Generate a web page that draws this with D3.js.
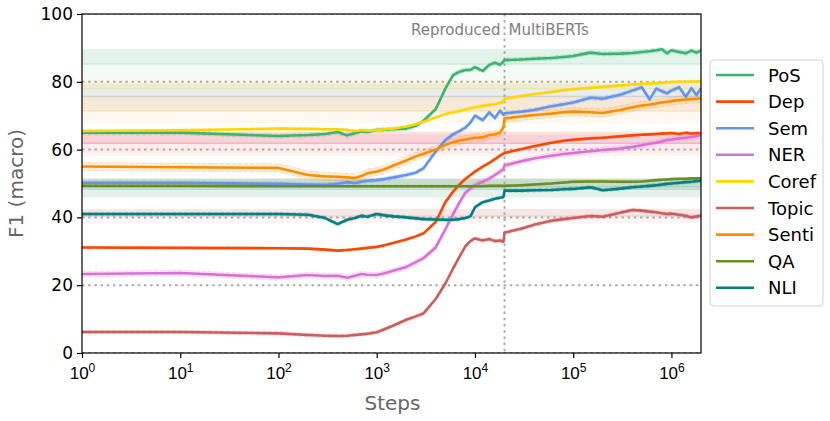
<!DOCTYPE html>
<html>
<head>
<meta charset="utf-8">
<script src="https://cdn.jsdelivr.net/npm/d3@7"></script>
<style>
  body { margin: 0; background: #fff; }
  svg { font-family: 'DejaVu Sans', sans-serif; }
</style>
</head>
<body>
<div id="chart"></div>
<script>
'use strict';

// probing tasks, in legend order
var tasks = ['PoS', 'Dep', 'Sem', 'NER', 'Coref', 'Topic', 'Senti', 'QA', 'NLI'];

// checkpoints: our reproduction up to 2e4, MultiBERTs after
var reproSteps = [1, 10, 100, 200, 300, 400, 500, 600, 700, 800, 1000, 1200, 1500, 2000, 2500, 3000,
  4000, 5000, 6000, 7000, 8000, 9000, 10000, 12000, 14000, 16000, 18000, 19500];
var multiSteps = [20000, 30000, 40000, 60000, 80000, 100000, 150000, 200000, 300000, 400000, 500000,
  600000, 700000, 800000, 900000, 1000000, 1200000, 1400000, 1600000, 1800000, 2000000];
var xTicks = [1, 10, 100, 1000, 10000, 100000, 1000000];
var yTicks = [0, 20, 40, 60, 80, 100];
var splitStep = 20000;

// F1 per checkpoint (repro values, then multi values)
var posF1 = [65, 65, 64, 64.3, 64.6, 65.2, 64.2, 64.8, 65.4, 65.2, 65.8, 65.9, 66, 66.2, 67, 68.5,
  72, 78, 82, 83, 83.5, 83.5, 84.3, 83.2, 85, 85.6, 85, 86,
  86.4, 86.6, 86.8, 87, 87.3, 87.6, 88.6, 88.2, 88.3, 88.5, 88.8, 89, 89.3, 89.6, 88.4, 89.3, 88.8, 88.4, 89.2, 88.6, 89.2];
var depF1 = [31.1, 31, 30.9, 30.8, 30.5, 30.2, 30.4, 30.6, 30.8, 31, 31.3, 31.8, 32.5, 33.5, 34.4, 35.3,
  38.7, 44.5, 47.6, 49.8, 51.3, 52.5, 53.5, 55, 56.1, 57.2, 58.2, 58.8,
  59, 60.2, 61, 62, 62.6, 62.9, 63.3, 63.5, 63.9, 64.2, 64.4, 64.5, 64.6, 64.7, 64.8, 64.9, 64.6, 65, 64.7, 64.9, 64.8];
var semF1 = [50.2, 50.2, 49.9, 49.7, 49.6, 49.9, 50.4, 50.1, 50.5, 50.8, 51, 51.3, 51.8, 52.5, 53.2, 54.5,
  59.5, 62.8, 64.5, 65.5, 66.5, 68, 70, 68.7, 71, 69.3, 71.5, 70.3,
  70.7, 71.2, 71.7, 72.8, 73.4, 73.9, 75.3, 75, 76.2, 77.4, 78.4, 74.8, 78, 77.2, 76.6, 77.4, 78.4, 75.6, 78.1, 76.1, 78];
var nerF1 = [23.3, 23.6, 22.3, 23, 22.7, 22.8, 22.2, 22.8, 23.3, 23.1, 23, 23.5, 24.3, 25.4, 26.8, 28,
  31.2, 36.5, 41, 44.5, 47.3, 48.5, 49.5, 50.5, 51.5, 52.5, 53.5, 54.3,
  55.3, 56.6, 57.4, 58.2, 58.7, 59, 59.5, 59.9, 60.3, 60.8, 61.3, 61.7, 62, 62.4, 62.8, 63, 63.3, 63.5, 63.7, 64, 64.3];
var corefF1 = [65.5, 65.7, 66.2, 66.1, 66, 66, 65.8, 65.5, 65.8, 65.6, 65.7, 66, 66.2, 66.8, 67.5, 68.2,
  69.5, 70.5, 71, 71.4, 71.8, 72.2, 72.5, 72.9, 73.2, 73.4, 73.8, 74.2,
  75, 75.8, 76.4, 77, 77.5, 77.8, 78.2, 78.5, 78.9, 79.2, 79.4, 79.5, 79.6, 79.7, 79.8, 79.9, 80, 80, 80.1, 80.1, 80.2];
var topicF1 = [6.2, 6.2, 5.8, 5.3, 5.1, 5, 5.1, 5.3, 5.5, 5.7, 6.1, 7, 8.2, 9.8, 10.8, 11.7,
  16, 20.5, 25, 28.5, 31.5, 33, 33.8, 33.2, 33.6, 33, 33.2, 32.8,
  35.5, 36.7, 37.8, 39, 39.5, 39.8, 40.4, 40.2, 41.4, 42.2, 42, 41.7, 41.5, 41.2, 41, 41.1, 40.8, 40.5, 40, 40.3, 40.5];
var sentiF1 = [55, 54.8, 54.6, 52.5, 52.1, 52, 51.8, 51.6, 52.2, 53, 53.5, 54.2, 55.4, 56.8, 58, 58.8,
  60, 61.4, 62.2, 62.7, 63, 63.3, 63.5, 63.6, 64.3, 64.5, 65, 66.5,
  69.2, 69.8, 70.2, 70.6, 71, 71.2, 71, 70.8, 71.7, 72.5, 73, 73.3, 73.6, 73.9, 74.1, 74.3, 74.6, 74.8, 74.9, 75, 75.1];
var qaF1 = [49.3, 49.3, 49.2, 49.2, 49.2, 49.2, 49.2, 49.2, 49.2, 49.2, 49.2, 49.2, 49.2, 49.2, 49.2, 49.2,
  49.2, 49.2, 49.2, 49.2, 49.2, 49.2, 49.2, 49.2, 49.3, 49.3, 49.3, 49.3,
  49.3, 49.5, 49.7, 50, 50.3, 50.5, 50.6, 50.6, 50.5, 50.5, 50.6, 50.8, 51, 51.1, 51.2, 51.3, 51.4, 51.4, 51.5, 51.5, 51.5];
var nliF1 = [41, 41, 41, 40.8, 39.8, 38, 39.3, 39.8, 40.5, 40.2, 41, 40.6, 40.3, 40, 39.7, 39.5,
  39.4, 39.3, 39.3, 39.5, 39.8, 40.3, 43, 44.5, 45, 45.5, 45.8, 46,
  47.9, 47.9, 48, 48.1, 48.3, 48.4, 48.9, 48, 48.5, 48.9, 49.1, 49.3, 49.5, 49.7, 49.9, 50, 50.2, 50.4, 50.5, 50.7, 50.8];

// spread across seeds (+-), per task
var seedStd = [0.6, 0.3, 0.6, 0.8, 0.4, 0.5, 1.2, 0.3, 0.5];

// reference ranges drawn as horizontal bands, per task
var refLow = [80.3, 58, 72, 59, 76, 38.3, 67.8, 46, 45.7];
var refMid = [85.2, 61.8, 75.6, 62, 78, 40.4, 71.4, 49, 48.3];
var refHigh = [89.7, 65.3, 79.5, 64.5, 80.3, 42.5, 76, 51.6, 51.3];

var colors = ['#3cb371', '#ff4500', '#6495ed', '#da70d6', '#ffd700', '#cd5c5c', '#ff8c00', '#6b8e23', '#008080'];

var allSteps = reproSteps.concat(multiSteps);
var values = [posF1, depF1, semF1, nerF1, corefF1, topicF1, sentiF1, qaF1, nliF1];

var W = 830, H = 421;
var m = { left: 82, top: 14, right: 129, bottom: 68 };
var pw = W - m.left - m.right;
var ph = H - m.top - m.bottom;

var svg = d3.select('#chart').append('svg')
  .attr('width', W)
  .attr('height', H);

var x = d3.scaleLog().domain([1, 2000000]).range([0, pw]);
var y = d3.scaleLinear().domain([0, 100]).range([ph, 0]);

var g = svg.append('g').attr('transform', 'translate(' + m.left + ',' + m.top + ')');

g.append('clipPath').attr('id', 'plotClip')
  .append('rect').attr('width', pw).attr('height', ph);

var plot = g.append('g').attr('clip-path', 'url(#plotClip)');

// reference bands
var bands = plot.append('g');
tasks.forEach(function (t, i) {
  bands.append('rect')
    .attr('x', 0).attr('width', pw)
    .attr('y', y(refHigh[i])).attr('height', y(refMid[i]) - y(refHigh[i]))
    .style('fill', colors[i]).style('opacity', 0.15);
  bands.append('rect')
    .attr('x', 0).attr('width', pw)
    .attr('y', y(refMid[i])).attr('height', y(refLow[i]) - y(refMid[i]))
    .style('fill', colors[i]).style('opacity', 0.06);
  bands.append('line')
    .attr('x1', 0).attr('x2', pw)
    .attr('y1', y(refMid[i])).attr('y2', y(refMid[i]))
    .style('stroke', colors[i]).style('stroke-width', 1.2).style('opacity', 0.22);
});

// grid
plot.append('g').selectAll('line').data(yTicks).enter().append('line')
  .attr('x1', 0).attr('x2', pw)
  .attr('y1', function (d) { return y(d); })
  .attr('y2', function (d) { return y(d); })
  .style('stroke', '#a9a9a9').style('stroke-width', 2).style('stroke-dasharray', '2.5,3.7');

plot.append('line')
  .attr('x1', x(splitStep)).attr('x2', x(splitStep))
  .attr('y1', 0).attr('y2', ph)
  .style('stroke', '#a9a9a9').style('stroke-width', 2).style('stroke-dasharray', '2.5,3.7');

// seed spread + mean line per task
var line = d3.line()
  .x(function (d) { return x(d[0]); })
  .y(function (d) { return y(d[1]); });
var area = d3.area()
  .x(function (d) { return x(d[0]); })
  .y0(function (d) { return y(d[1] - d[2]); })
  .y1(function (d) { return y(d[1] + d[2]); });

tasks.forEach(function (t, i) {
  var pts = allSteps.map(function (s, j) { return [s, values[i][j], seedStd[i]]; });
  plot.append('path').datum(pts)
    .attr('d', area)
    .style('fill', colors[i]).style('opacity', 0.15);
  [-1, 1].forEach(function (sign) {
    plot.append('path').datum(pts.map(function (p) { return [p[0], p[1] + sign * p[2]]; }))
      .attr('d', line)
      .style('fill', 'none').style('stroke', colors[i])
      .style('stroke-width', 1).style('stroke-dasharray', '4,2').style('opacity', 0.25);
  });
});
tasks.forEach(function (t, i) {
  var pts = allSteps.map(function (s, j) { return [s, values[i][j]]; });
  plot.append('path').datum(pts)
    .attr('d', line)
    .style('fill', 'none').style('stroke', colors[i])
    .style('stroke-width', 2.6).style('stroke-linejoin', 'round');
});

// region labels
g.append('text')
  .attr('x', x(splitStep) - 4).attr('y', 21)
  .attr('text-anchor', 'end')
  .style('font-size', '15px').style('fill', '#808080')
  .text('Reproduced');
g.append('text')
  .attr('x', x(splitStep) + 4).attr('y', 21)
  .style('font-size', '15px').style('fill', '#808080')
  .text('MultiBERTs');

// frame
g.append('rect')
  .attr('width', pw).attr('height', ph)
  .style('fill', 'none').style('stroke', '#000').style('stroke-width', 1.2);

// x axis
var xAxis = g.append('g').attr('transform', 'translate(0,' + ph + ')')
  .call(d3.axisBottom(x).tickValues(xTicks).tickSize(5).tickFormat(''));
xAxis.select('.domain').remove();
xAxis.selectAll('.tick line').style('stroke', '#000').style('stroke-width', 1.2);
xAxis.selectAll('.tick').each(function (d) {
  var t = d3.select(this).append('text')
    .attr('y', 26).attr('text-anchor', 'middle')
    .style('fill', '#000').style('font-size', '17px');
  t.append('tspan').text('10');
  t.append('tspan').attr('dy', -7).style('font-size', '12px').text(Math.round(Math.log10(d)));
});

// y axis
var yAxis = g.append('g')
  .call(d3.axisLeft(y).tickValues(yTicks).tickSize(5).tickPadding(4));
yAxis.select('.domain').remove();
yAxis.selectAll('.tick line').style('stroke', '#000').style('stroke-width', 1.2);
yAxis.selectAll('.tick text').style('font-size', '17px').style('fill', '#000')
  .style('font-family', "'DejaVu Sans', sans-serif");

// axis titles
svg.append('text')
  .attr('transform', 'translate(23,' + (m.top + ph / 2) + ') rotate(-90)')
  .attr('text-anchor', 'middle')
  .style('font-size', '20px').style('fill', '#666')
  .text('F1 (macro)');
svg.append('text')
  .attr('x', m.left + pw / 2 + 1).attr('y', 410)
  .attr('text-anchor', 'middle')
  .style('font-size', '20px').style('fill', '#666')
  .text('Steps');

// legend
var lg = svg.append('g').attr('transform', 'translate(710,60)');
lg.append('rect')
  .attr('width', 113).attr('height', 246).attr('rx', 4)
  .style('fill', '#fff').style('fill-opacity', 0.8)
  .style('stroke', '#d0d0d0').style('stroke-width', 1);
tasks.forEach(function (t, i) {
  var row = lg.append('g').attr('transform', 'translate(0,' + (15 + i * 26.6) + ')');
  row.append('line')
    .attr('x1', 6).attr('x2', 44)
    .style('stroke', colors[i]).style('stroke-width', 2.6);
  row.append('text')
    .attr('x', 58).attr('y', 6.5)
    .style('font-size', '18px').style('fill', '#000')
    .text(t);
});
</script>
</body>
</html>
